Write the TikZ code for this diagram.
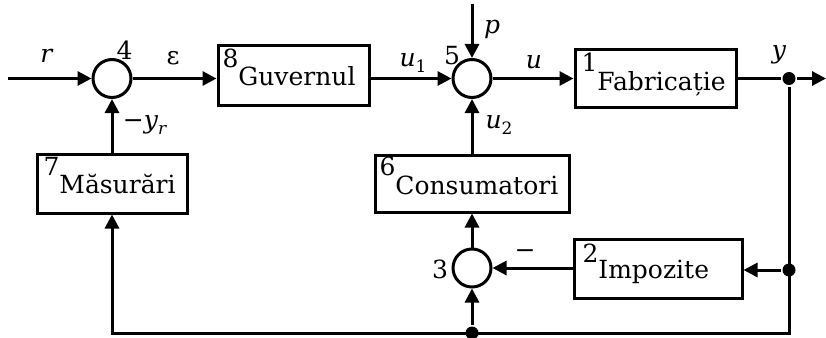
\documentclass[tikz,border=0pt]{standalone}
\usepackage{fontspec}
\setmainfont{DejaVu Serif}
\usetikzlibrary{arrows.meta,calc}
% small lowered index for variable names
\newcommand{\subidx}[1]{\raisebox{-0.25em}{\fontsize{17}{17}\selectfont #1}}
\begin{document}
\begin{tikzpicture}[x=1pt,y=-1pt,
  line width=3pt,
  >={Triangle[length=14pt,width=14pt]},
  blk/.style={draw, rectangle, inner sep=0pt},
  sumj/.style={draw, circle, minimum size=38pt, inner sep=0pt},
  txt/.style={font=\fontsize{25}{30}\selectfont, inner sep=0pt, anchor=base west},
  lab/.style={font=\fontsize{25}{30}\selectfont, inner sep=0pt},
  dot/.style={circle, fill, minimum size=13pt, inner sep=0pt}
]
\useasboundingbox (0,0) rectangle (826,337);

% blocks
\node[blk, minimum width=151pt, minimum height=59pt] (gov) at (293.5,75.5) {};
\node[blk, minimum width=161pt, minimum height=58pt] (fab) at (655.5,78.5) {};
\node[blk, minimum width=194pt, minimum height=57pt] (con) at (472.5,183.5) {};
\node[blk, minimum width=150pt, minimum height=59pt] (mas) at (112,183.5) {};
\node[blk, minimum width=168pt, minimum height=59pt] (imp) at (658,268.5) {};

% block texts with their index numbers
\node[txt] (govt) at (221,85) {\raisebox{18pt}{8}Guvernul};
\node[txt] (fabt) at (580,90) {\raisebox{19pt}{1}Fabricație};
\node[txt] (cont) at (378,194) {\raisebox{19pt}{6}Consumatori};
\node[txt] (mast) at (42,193) {\raisebox{18pt}{7}Măsurări};
\node[txt] (impt) at (581,278) {\raisebox{16pt}{2}Impozite};

% summing junctions
\node[sumj] (c4) at (112,78.5) {};
\node[sumj] (c5) at (472,78.5) {};
\node[sumj] (c3) at (472,268) {};

% branch points
\node[dot] (jy) at (789,78.5) {};
\node[dot] (ji) at (789,270) {};
\node[dot] (jb) at (472,333) {};

% free ends and corners
\coordinate (rin) at (8,78.5);
\coordinate (pin) at (472,4);
\coordinate (yout) at (826,78.5);
\coordinate (br) at (789,333);
\coordinate (bl) at (112,333);

% forward path
\draw[->] (rin) -- (c4);
\draw[->] (c4) -- (gov.west |- c4);
\draw[->] (gov.east |- c5) -- (c5);
\draw[->] (pin) -- (c5);
\draw[->] (c5) -- (fab.west |- c5);
\draw (fab.east |- jy) -- (jy);
\draw[->] (jy) -- (yout);

% feedback paths
\draw[->] (jy) -- (br) -- (bl) -- (mas.south);
\draw[->] (mas.north) -- (c4);
\draw[->] (ji) -- (imp.east |- ji);
\draw[->] (imp.west |- c3) -- (c3);
\draw[->] (c3) -- (c3 |- con.south);
\draw[->] (con.north -| c5) -- (c5);
\draw[->] (jb) -- (c3);

% signal labels
\node[lab] (lr) at (47,56) {\textit{r}};
\node[lab] (l4) at (124.5,50) {4};
\node[lab] (leps) at (173,58) {ε};
\node[lab] (lyr) at (145,125) {−\textit{y}\subidx{\textit{r}}};
\node[lab] (lu1) at (413,63) {\textit{u}\subidx{1}};
\node[lab] (l5) at (452,56) {5};
\node[lab] (lp) at (492,29) {\textit{p}};
\node[lab] (lu) at (534,62) {\textit{u}};
\node[lab] (ly) at (779,55) {\textit{y}};
\node[lab] (lu2) at (499,125) {\textit{u}\subidx{2}};
\node[lab] (l3) at (440,269) {3};
\node[lab] (lneg) at (525,254) {−};
\end{tikzpicture}
\end{document}
